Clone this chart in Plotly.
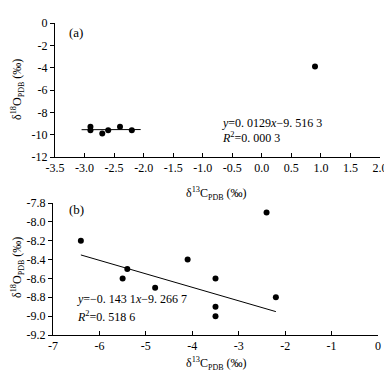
import plotly.graph_objects as go
from plotly.subplots import make_subplots

# panel (a)
a_x = [-2.9, -2.9, -2.7, -2.6, -2.4, -2.2, 0.9]
a_y = [-9.3, -9.6, -9.9, -9.6, -9.3, -9.6, -3.9]
a_fit_x = [-3.05, -2.05]
a_slope, a_icept = 0.0129, -9.5163
a_xticks = [-3.5, -3.0, -2.5, -2.0, -1.5, -1.0, -0.5, 0.0, 0.5, 1.0, 1.5, 2.0]
a_yticks = [0, -2, -4, -6, -8, -10, -12]

# panel (b)
b_x = [-6.4, -5.5, -5.4, -4.8, -4.1, -3.5, -3.5, -3.5, -2.4, -2.2]
b_y = [-8.2, -8.6, -8.5, -8.7, -8.4, -8.6, -8.9, -9.0, -7.9, -8.8]
b_fit_x = [-6.4, -2.2]
b_slope, b_icept = -0.1431, -9.2667
b_xticks = [-7, -6, -5, -4, -3, -2, -1, 0]
b_yticks = [-7.8, -8.0, -8.2, -8.4, -8.6, -8.8, -9.0, -9.2]


def lbl(v, fmt):
    return fmt.format(v).replace('\u2212', '-')


# page body keeps its default 8px margin, so the figure is 8px smaller each way
OFF = 8
W, H = 392 - OFF, 374 - OFF
FONT = 'Liberation Serif'


def px(x):
    return (x - OFF) / W


def py(y):
    return 1 - (y - OFF) / H


fig = make_subplots(rows=2, cols=1)

fig.add_trace(go.Scatter(x=a_x, y=a_y, mode='markers',
                         marker=dict(color='black', size=6)), row=1, col=1)
fig.add_trace(go.Scatter(x=a_fit_x, y=[a_slope * v + a_icept for v in a_fit_x],
                         mode='lines', line=dict(color='black', width=1)), row=1, col=1)
fig.add_trace(go.Scatter(x=b_x, y=b_y, mode='markers',
                         marker=dict(color='black', size=6)), row=2, col=1)
fig.add_trace(go.Scatter(x=b_fit_x, y=[b_slope * v + b_icept for v in b_fit_x],
                         mode='lines', line=dict(color='black', width=1)), row=2, col=1)

axis_common = dict(showgrid=False, zeroline=False, showline=True, linecolor='black',
                   linewidth=1, tickcolor='black', ticklen=4, tickwidth=1, automargin=False,
                   tickfont=dict(family=FONT, size=12, color='black'), mirror=False)

fig.update_xaxes(axis_common)
fig.update_yaxes(axis_common)

fig.update_layout(
    xaxis=dict(domain=[px(55), px(380)], range=[-3.5, 2.0], ticks='inside',
               tickvals=a_xticks, ticktext=[lbl(v, '{:.1f}') for v in a_xticks]),
    yaxis=dict(domain=[py(157), py(23)], range=[-12, 0], ticks='outside',
               tickvals=a_yticks, ticktext=[lbl(v, '{:d}') for v in a_yticks]),
    xaxis2=dict(domain=[px(53), px(378)], range=[-7, 0], ticks='inside',
                tickvals=b_xticks, ticktext=[lbl(v, '{:d}') for v in b_xticks]),
    yaxis2=dict(domain=[py(335), py(203)], range=[-9.2, -7.8], ticks='outside',
                tickvals=b_yticks, ticktext=[lbl(v, '{:.1f}') for v in b_yticks]),
    width=W, height=H, margin=dict(l=0, r=0, t=0, b=0, pad=0), autosize=False,
    plot_bgcolor='white', paper_bgcolor='white', showlegend=False,
    font=dict(family=FONT, size=12, color='black'),
)

ytitle = 'δ<sup>18</sup>O<sub><span style="font-size:8px">PDB</span></sub> (‰)'
xtitle = 'δ<sup>13</sup>C<sub><span style="font-size:8px">PDB</span></sub> (‰)'

notes = [
    dict(x=67, y=33, text='(a)', xanchor='left', size=13),
    dict(x=67, y=210, text='(b)', xanchor='left', size=13),
    dict(x=220, y=123, text='<i>y</i>=0. 0129<i>x</i>−9. 516 3', xanchor='left', size=12),
    dict(x=220, y=137, text='<i>R</i><sup>2</sup>=0. 000 3', xanchor='left', size=12),
    dict(x=75, y=299, text='<i>y</i>=−0. 143 1<i>x</i>−9. 266 7', xanchor='left', size=12),
    dict(x=75, y=316, text='<i>R</i><sup>2</sup>=0. 518 6', xanchor='left', size=12),
    dict(x=216, y=193, text=xtitle, xanchor='center', size=12),
    dict(x=216, y=363, text=xtitle, xanchor='center', size=12),
]
for n in notes:
    fig.add_annotation(x=px(n['x']), y=py(n['y']), xref='paper', yref='paper', text=n['text'],
                       showarrow=False, xanchor=n['xanchor'], yanchor='middle',
                       font=dict(family=FONT, size=n['size'], color='black'))

for yc in [90, 268]:
    fig.add_annotation(x=px(17), y=py(yc), xref='paper', yref='paper', text=ytitle,
                       showarrow=False, textangle=-90, xanchor='center', yanchor='middle',
                       font=dict(family=FONT, size=12, color='black'))

fig.write_html("out.html")
